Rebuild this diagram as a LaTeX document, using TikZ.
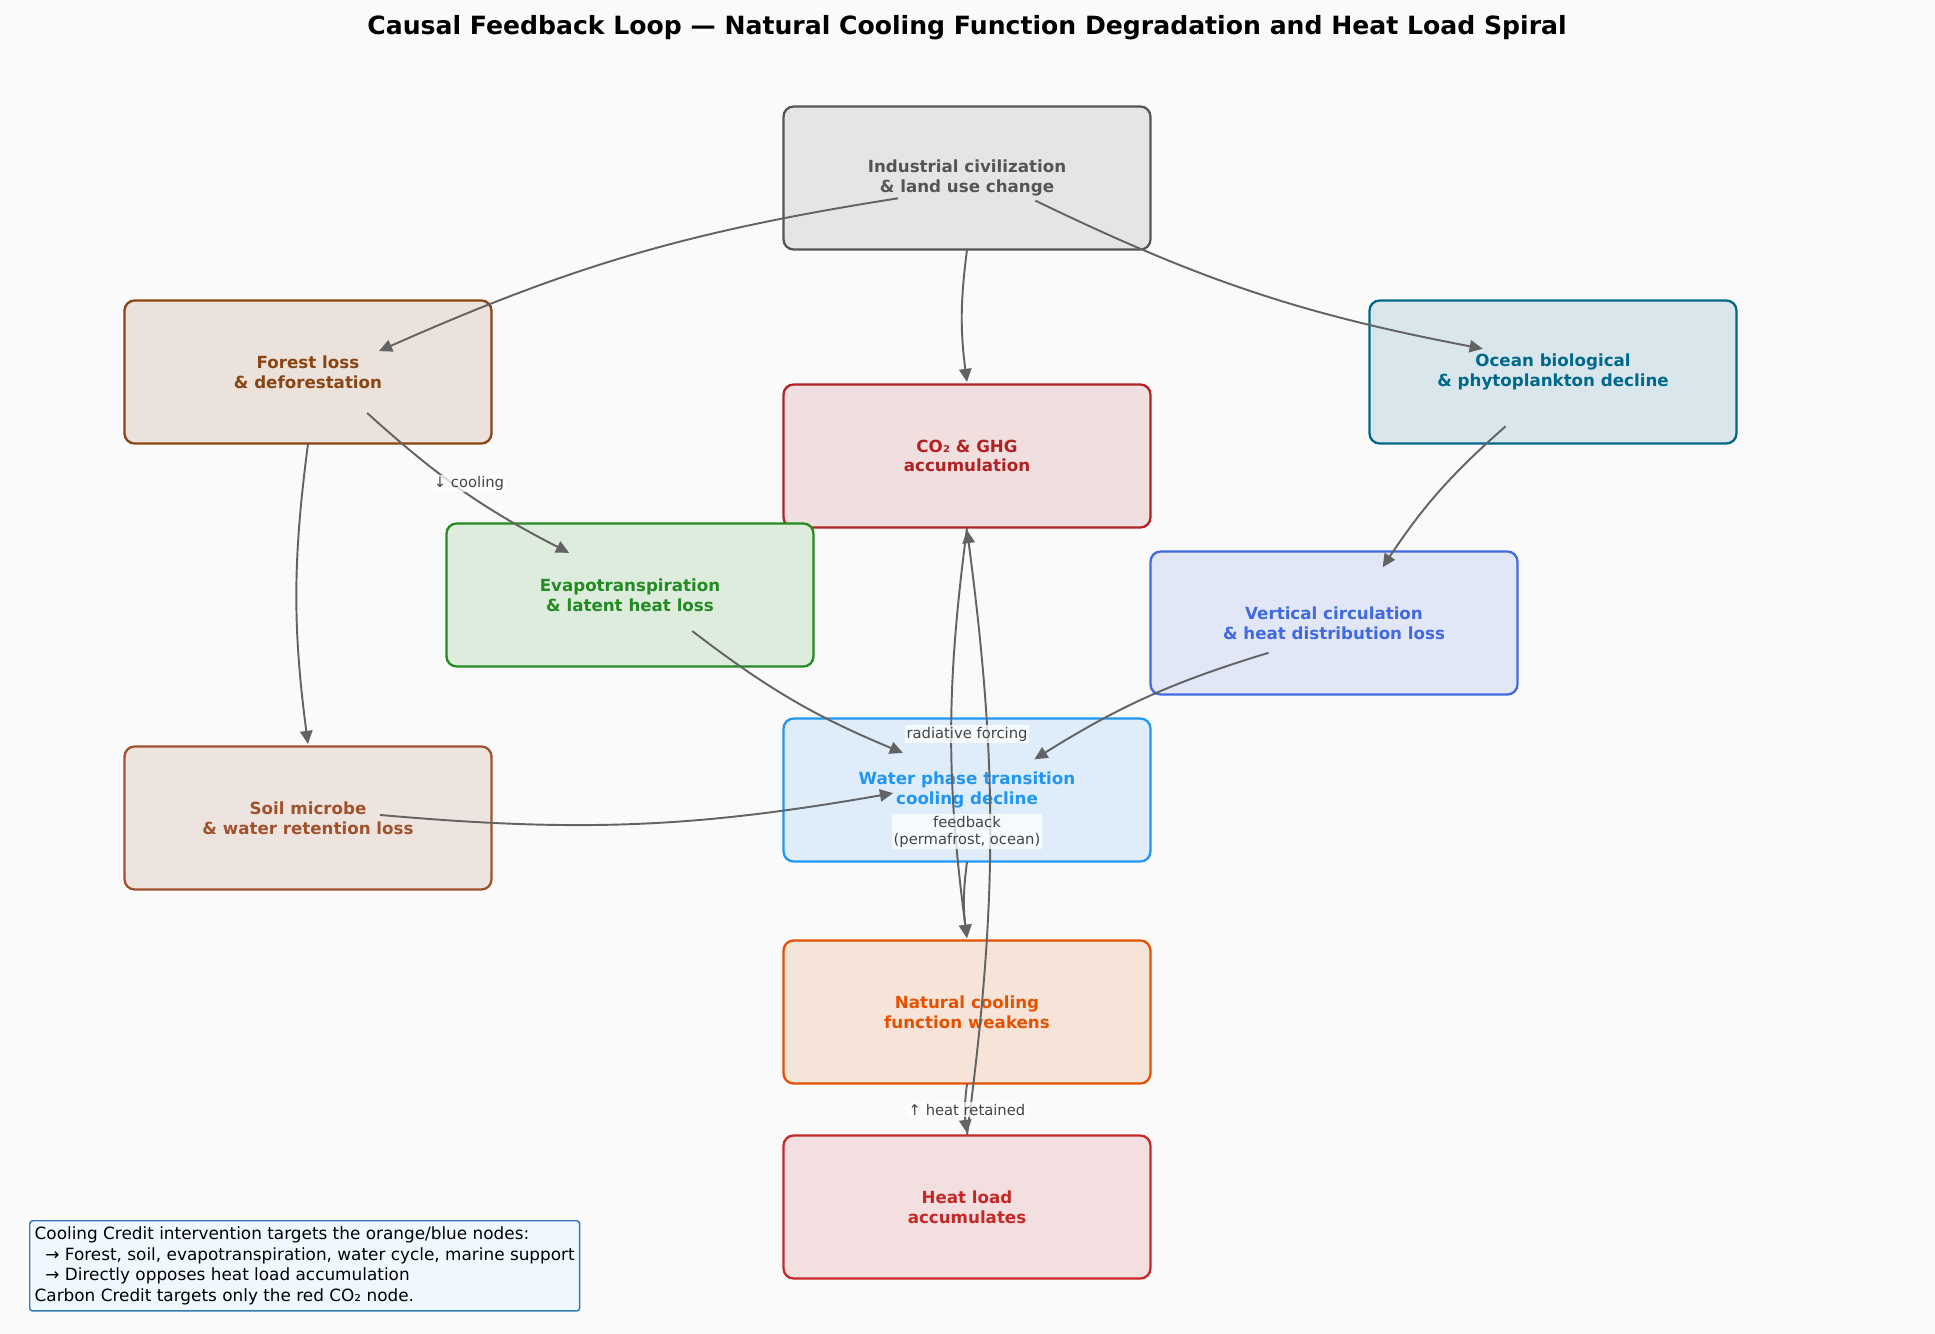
\documentclass[tikz,border=0pt]{standalone}
\usepackage{fontspec}
\setmainfont{DejaVu Sans}
\usepackage{tikz}
\usetikzlibrary{calc,positioning,arrows.meta}
\definecolor{bgc}{HTML}{FAFAFA}
\definecolor{edgec}{HTML}{636363}
\definecolor{labc}{HTML}{444444}
\definecolor{indc}{HTML}{555555}
\definecolor{forc}{HTML}{8B4513}
\definecolor{ocnc}{HTML}{00688B}
\definecolor{co2c}{HTML}{B22222}
\definecolor{evac}{HTML}{228B22}
\definecolor{verc}{HTML}{4169E1}
\definecolor{watc}{HTML}{2196F3}
\definecolor{soilc}{HTML}{A0522D}
\definecolor{natc}{HTML}{E65100}
\definecolor{heatc}{HTML}{C62828}
\definecolor{legc}{HTML}{3479B3}
\definecolor{legf}{HTML}{F0F8FF}

\begin{document}
\begin{tikzpicture}[x=0.02cm,y=0.02cm,
box/.style={draw=#1,fill=#1!13!bgc,text=#1,rounded corners=5.7pt,line width=1.3pt,
minimum width=7.34cm,minimum height=2.86cm,align=center,font=\fontsize{9.5}{11.2}\selectfont\bfseries},
link/.style={draw=edgec,line width=1.1pt,-{Triangle[length=7.5pt,width=7pt]}},
tag/.style={fill=white,fill opacity=0.75,text opacity=1,text=labc,inner sep=1pt,align=center,
font=\fontsize{8.4}{9.6}\selectfont}]
\fill[bgc] (0,0) rectangle (1935,-1334);
\useasboundingbox (0,0) rectangle (1935,-1334);
\node[anchor=base,font=\fontsize{14.3}{16}\selectfont\bfseries] (title) at (967,-35) {Causal Feedback Loop — Natural Cooling Function Degradation and Heat Load Spiral};
\node[box=indc] (ind) at (967,-178) {Industrial civilization\\\& land use change};
\node[box=forc] (forest) at (308,-372) {Forest loss\\\& deforestation};
\node[box=ocnc] (ocean) at (1553,-372) {Ocean biological\\\& phytoplankton decline};
\node[box=co2c] (co2) at (967,-456) {CO₂ \& GHG\\accumulation};
\node[box=evac] (evapo) at (630,-595) {Evapotranspiration\\\& latent heat loss};
\node[box=verc] (vert) at (1334,-623) {Vertical circulation\\\& heat distribution loss};
\node[box=watc] (water) at (967,-790) {Water phase transition\\cooling decline};
\node[box=soilc] (soil) at (308,-818) {Soil microbe\\\& water retention loss};
\node[box=natc] (nat) at (967,-1012) {Natural cooling\\function weakens};
\node[box=heatc] (heat) at (967,-1207) {Heat load\\accumulates};
\draw[link] ($(ind)!1.44cm!(forest)$) to[bend right=7.5] ($(forest)!1.48cm!(ind)$);
\draw[link] ($(ind)!1.44cm!(co2)$) to[bend right=7.5] ($(co2)!1.48cm!(ind)$);
\draw[link] ($(ind)!1.44cm!(ocean)$) to[bend right=7.5] ($(ocean)!1.48cm!(ind)$);
\draw[link] ($(forest)!1.44cm!(evapo)$) to[bend right=7.5] ($(evapo)!1.48cm!(forest)$);
\draw[link] ($(forest)!1.44cm!(soil)$) to[bend right=7.5] ($(soil)!1.48cm!(forest)$);
\draw[link] ($(ocean)!1.44cm!(vert)$) to[bend right=7.5] ($(vert)!1.48cm!(ocean)$);
\draw[link] ($(evapo)!1.44cm!(water)$) to[bend right=7.5] ($(water)!1.48cm!(evapo)$);
\draw[link] ($(soil)!1.44cm!(water)$) to[bend right=7.5] ($(water)!1.48cm!(soil)$);
\draw[link] ($(vert)!1.44cm!(water)$) to[bend right=7.5] ($(water)!1.48cm!(vert)$);
\draw[link] ($(co2)!1.44cm!(nat)$) to[bend right=7.5] ($(nat)!1.48cm!(co2)$);
\draw[link] ($(water)!1.44cm!(nat)$) to[bend right=7.5] ($(nat)!1.48cm!(water)$);
\draw[link] ($(nat)!1.44cm!(heat)$) to[bend right=7.5] ($(heat)!1.48cm!(nat)$);
\draw[link] ($(heat)!1.44cm!(co2)$) to[bend right=7.5] ($(co2)!1.48cm!(heat)$);
\node[tag] (tcool) at ($(forest)!0.5!(evapo)$) {↓ cooling};
\node[tag] (tforce) at ($(co2)!0.5!(nat)$) {radiative forcing};
\node[tag] (tfeed) at ($(heat)!0.5!(co2)$) {feedback\\(permafrost, ocean)};
\node[tag] (theat) at ($(nat)!0.5!(heat)$) {↑ heat retained};
\node[draw=legc,fill=legf,line width=0.85pt,rounded corners=1.7pt,anchor=north west,
minimum width=10.94cm,minimum height=1.8cm,inner xsep=2.8pt,align=left,
font=\fontsize{9.6}{11.8}\selectfont] (legend) at (29,-1220)
{Cooling Credit intervention targets the orange/blue nodes:\\
\hspace*{0.64em}→ Forest, soil, evapotranspiration, water cycle, marine support\\
\hspace*{0.64em}→ Directly opposes heat load accumulation\\
Carbon Credit targets only the red CO₂ node.};
\end{tikzpicture}
\end{document}
